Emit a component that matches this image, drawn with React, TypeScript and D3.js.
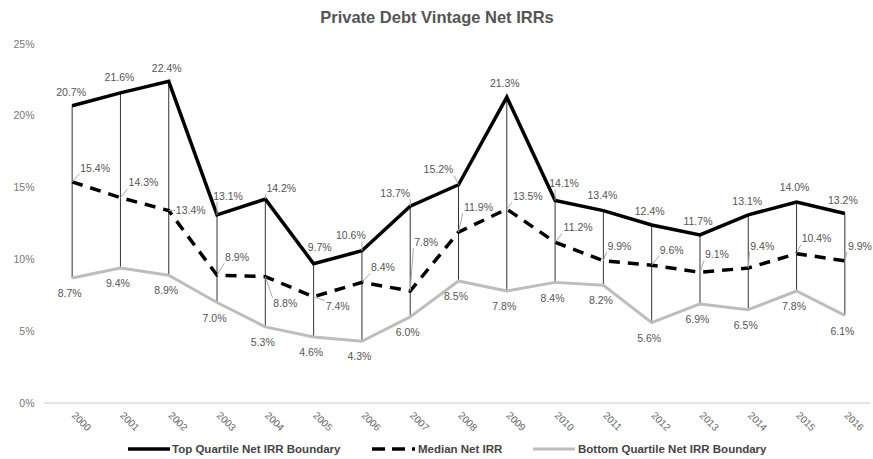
import React from "react";
import * as d3 from "d3";

const years = ["2000","2001","2002","2003","2004","2005","2006","2007","2008","2009","2010","2011","2012","2013","2014","2015","2016"];
const topQuartile = [20.7, 21.6, 22.4, 13.1, 14.2, 9.7, 10.6, 13.7, 15.2, 21.3, 14.1, 13.4, 12.4, 11.7, 13.1, 14.0, 13.2];
const median = [15.4, 14.3, 13.4, 8.9, 8.8, 7.4, 8.4, 7.8, 11.9, 13.5, 11.2, 9.9, 9.6, 9.1, 9.4, 10.4, 9.9];
const bottomQuartile = [8.7, 9.4, 8.9, 7.0, 5.3, 4.6, 4.3, 6.0, 8.5, 7.8, 8.4, 8.2, 5.6, 6.9, 6.5, 7.8, 6.1];
const yTicks = [0, 5, 10, 15, 20, 25];

// manual label placement (pixel offsets from each point), as in the reference
const topLabelOffsets: [number, number][] = [
  [-1, -13], [-1, -15], [-2, -13], [11, -19], [16, -11], [6, -16], [-11, -15], [-15, -13], [-20, -15],
  [-2, -14], [9, -17], [-1, -15], [-2, -14], [-2, -14], [-1, -14], [-2, -15], [-2, -13],
];
const medianLabelOffsets: [number, number][] = [
  [23, -14], [23, -15], [22, 0], [20, -18], [20, 27], [24, 10], [21, -15], [16, -49], [20, -25],
  [21, -13], [23, -15], [16, -15], [20, -15], [17, -18], [14, -22], [20, -15], [15, -15],
];
const bottomLabelOffset: [number, number] = [-2.5, 15.5];

const W = 873;
const H = 459;
const LABEL_FONT = "Liberation Sans, Arial, sans-serif";

export default function App() {
  const x = d3.scaleBand<string>().domain(years).range([48, 869]);
  const cx = (i: number) => (x(years[i]) as number) + x.bandwidth() / 2;
  const y = d3.scaleLinear().domain([0, 25]).range([403, 44]);

  const line = d3.line<number>().x((_, i) => cx(i)).y((v) => y(v));

  const fmt = (v: number) => v.toFixed(1) + "%";
  const labelW = (s: string) => s.length * 5.9;
  const labelH = 10;

  const renderLabels = (vals: number[], offs: [number, number][], key: string) =>
    vals.map((v, i) => {
      const px = cx(i);
      const py = y(v);
      const [dx, dy] = offs[i];
      const lx = px + dx;
      const ly = py + dy;
      const s = fmt(v);
      const w = labelW(s);
      let leader: React.ReactNode = null;
      if (Math.abs(dx) > 8 || Math.abs(dy) > 20) {
        const ex = Math.max(lx - w / 2 - 1, Math.min(px, lx + w / 2 + 1));
        const ey = Math.max(ly - labelH / 2 - 1, Math.min(py, ly + labelH / 2 + 1));
        leader = <line x1={px} y1={py} x2={ex} y2={ey} stroke="#aaa" strokeWidth={1} />;
      }
      return (
        <g key={key + i}>
          {leader}
          <text x={lx} y={ly} dy="0.35em" textAnchor="middle" fontSize={10.5} fill="#555" fontFamily={LABEL_FONT}>
            {s}
          </text>
        </g>
      );
    });

  return (
    <svg width={W} height={H} style={{ position: "absolute", left: 0, top: 0, background: "#fff" }}>
      <rect x={0} y={0} width={W} height={H} fill="#fff" />
      <text x={437} y={23} textAnchor="middle" fontSize={16.5} fontWeight="bold" fill="#555" fontFamily={LABEL_FONT}>
        Private Debt Vintage Net IRRs
      </text>

      {/* y axis labels */}
      {yTicks.map((t) => (
        <text key={t} x={34.5} y={y(t)} dy="0.35em" textAnchor="end" fontSize={10.5} fill="#777" fontFamily={LABEL_FONT}>
          {t + "%"}
        </text>
      ))}

      {/* baseline */}
      <line x1={44} x2={870} y1={y(0)} y2={y(0)} stroke="#ddd" strokeWidth={1.5} />

      {/* x axis labels */}
      {years.map((yr, i) => (
        <text key={yr} transform={`translate(${cx(i) - 1},${416}) rotate(45)`} fontSize={10} fill="#666" fontFamily={LABEL_FONT}>
          {yr}
        </text>
      ))}

      {/* high-low lines */}
      {years.map((yr, i) => (
        <line key={"hl" + yr} x1={cx(i)} x2={cx(i)} y1={y(topQuartile[i])} y2={y(bottomQuartile[i])} stroke="#333" strokeWidth={1} />
      ))}

      <path d={line(bottomQuartile) || ""} fill="none" stroke="#bdbdbd" strokeWidth={3} strokeLinejoin="round" />
      <path d={line(median) || ""} fill="none" stroke="#000" strokeWidth={3.5} strokeDasharray="11 8" />
      <path d={line(topQuartile) || ""} fill="none" stroke="#000" strokeWidth={3.5} strokeLinejoin="miter" />

      {renderLabels(topQuartile, topLabelOffsets, "t")}
      {renderLabels(median, medianLabelOffsets, "m")}
      {renderLabels(bottomQuartile, bottomQuartile.map(() => bottomLabelOffset), "b")}

      {/* legend */}
      <g fontFamily={LABEL_FONT} fontSize={11.5} fontWeight="bold" fill="#444">
        <line x1={128} x2={170} y1={449} y2={449} stroke="#000" strokeWidth={3.5} />
        <text x={172} y={449} dy="0.35em">Top Quartile Net IRR Boundary</text>
        <line x1={372} x2={415} y1={449} y2={449} stroke="#000" strokeWidth={3.5} strokeDasharray="13 7" />
        <text x={418} y={449} dy="0.35em">Median Net IRR</text>
        <line x1={533} x2={575} y1={449} y2={449} stroke="#bdbdbd" strokeWidth={3} />
        <text x={578} y={449} dy="0.35em">Bottom Quartile Net IRR Boundary</text>
      </g>
    </svg>
  );
}
